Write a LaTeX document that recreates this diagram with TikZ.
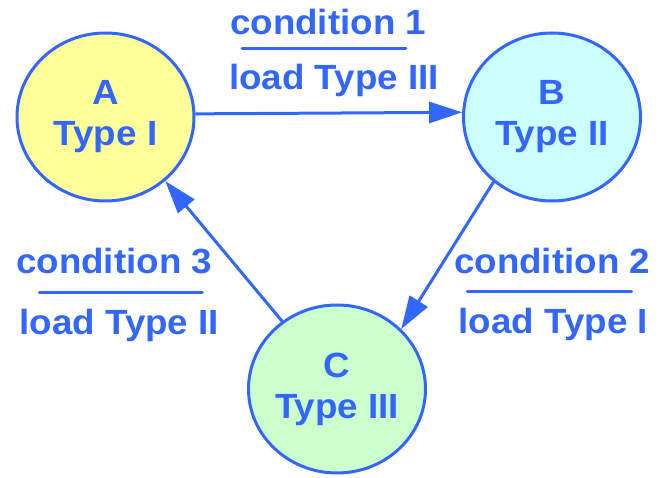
\documentclass[tikz,border=0pt]{standalone}
\usepackage{fontspec}
\setmainfont[FakeStretch=1.05]{Liberation Sans}
\usetikzlibrary{shapes.geometric,arrows.meta}
\definecolor{stroke}{RGB}{51,102,255}
\definecolor{fillA}{RGB}{255,255,153}
\definecolor{fillB}{RGB}{204,255,255}
\definecolor{fillC}{RGB}{204,255,204}
\tikzset{
  state/.style={ellipse, draw=stroke, line width=3pt, minimum width=177pt,
    minimum height=168pt, inner sep=0pt, align=center, text=stroke,
    font=\fontsize{35}{41}\selectfont\bfseries},
  lbl/.style={anchor=base west, inner sep=0pt, text=stroke,
    font=\fontsize{35}{41}\selectfont\bfseries},
  fracbar/.style={draw=stroke, line width=3pt, line cap=round},
  trans/.style={draw=stroke, line width=3pt,
    -{Triangle[length=33pt,width=21pt]}}
}
\begin{document}
\begin{tikzpicture}[x=1pt,y=-1pt]
\useasboundingbox (0,0) rectangle (670,478);

% states
\node[state, fill=fillA] (A) at (105.5,117) {A\\Type I};
\node[state, fill=fillB] (B) at (552,117) {B\\Type II};
\node[state, fill=fillC] (C) at (337,389) {C\\Type III};

% transitions
\draw[trans] (A.2.5) -- (B.177.5);
\draw[trans] (B.228) -- (C.43);
\draw[trans] (C.129) -- (A.313);

% label of A -> B
\node[lbl] (c1) at (230,35) {condition 1};
\node[lbl] (l1) at (229,89.3) {load Type III};
\coordinate (r1a) at (242,48.3);
\coordinate (r1b) at (406,48.3);
\draw[fracbar] (r1a) -- (r1b);

% label of B -> C
\node[lbl] (c2) at (454,273.3) {condition 2};
\node[lbl] (l2) at (458.5,333.3) {load Type I};
\coordinate (r2a) at (467.3,291.7);
\coordinate (r2b) at (631.7,291.7);
\draw[fracbar] (r2a) -- (r2b);

% label of C -> A
\node[lbl] (c3) at (16,273.3) {condition 3};
\node[lbl] (l3) at (19.3,335) {load Type II};
\coordinate (r3a) at (39.3,292.3);
\coordinate (r3b) at (202.3,292.3);
\draw[fracbar] (r3a) -- (r3b);
\end{tikzpicture}
\end{document}
